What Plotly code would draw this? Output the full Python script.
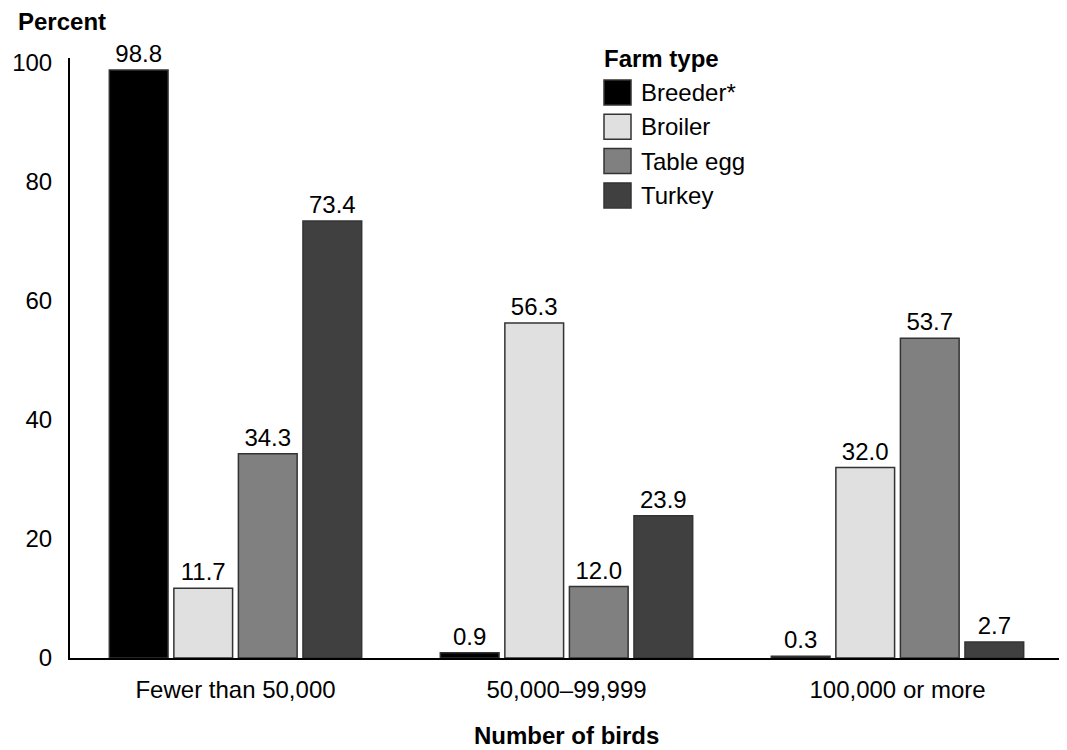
import plotly.graph_objects as go

categories = ["Fewer than 50,000", "50,000\u201399,999", "100,000 or more"]
series_names = ["Breeder*", "Broiler", "Table egg", "Turkey"]
breeder = [98.8, 0.9, 0.3]
broiler = [11.7, 56.3, 32.0]
table_egg = [34.3, 12.0, 53.7]
turkey = [73.4, 23.9, 2.7]
colors = ["#000000", "#e0e0e0", "#808080", "#404040"]
y_ticks = [0, 20, 40, 60, 80, 100]

FONT = "Liberation Sans"
FS = 24

# page offset (browser body margin) compensation: plot area in page coords = x 70..1063, y 58..658
OFF = 8

fig = go.Figure()
for name, vals, col in zip(series_names, [breeder, broiler, table_egg, turkey], colors):
    fig.add_trace(go.Bar(
        x=categories, y=vals, name=name,
        marker=dict(color=col, line=dict(color="#333333", width=1.5)),
        text=[f"{v:.1f}" for v in vals], textposition="outside",
        textfont=dict(family=FONT, size=FS, color="black"),
        cliponaxis=False, showlegend=False,
    ))

fig.update_layout(
    width=1067 - OFF, height=750 - OFF,
    margin=dict(l=70 - OFF, r=4, t=58 - OFF, b=92, autoexpand=False),
    paper_bgcolor="white", plot_bgcolor="white",
    barmode="group", bargap=0.22, bargroupgap=0.09,
    font=dict(family=FONT, size=FS, color="black"),
    uniformtext=dict(minsize=FS, mode="show"),
)
fig.update_yaxes(
    range=[0, 100.8], tickvals=y_ticks, showgrid=False, zeroline=False,
    showline=True, linecolor="black", linewidth=2, ticks="",
    ticklabelstandoff=11, tickfont=dict(family=FONT, size=FS),
)
fig.update_xaxes(
    showgrid=False, showline=True, linecolor="black", linewidth=2, ticks="",
    ticklabelstandoff=9, tickfont=dict(family=FONT, size=FS),
)

def px_x(px):
    return (px - 70) / 993

def px_y(py):
    return (658 - py) / 600

# Axis titles
fig.add_annotation(text="<b>Percent</b>", xref="paper", yref="paper", x=px_x(16), y=px_y(22),
                   xanchor="left", yanchor="middle", showarrow=False,
                   font=dict(family=FONT, size=FS))
fig.add_annotation(text="<b>Number of birds</b>", xref="paper", yref="paper", x=0.5, y=px_y(735),
                   xanchor="center", yanchor="middle", showarrow=False,
                   font=dict(family=FONT, size=FS))

# Custom legend
fig.add_annotation(text="<b>Farm type</b>", xref="paper", yref="paper", x=px_x(602), y=px_y(58),
                   xanchor="left", yanchor="middle", showarrow=False, font=dict(family=FONT, size=FS))
for i, (name, col) in enumerate(zip(series_names, colors)):
    top = 80 + 34.3 * i
    fig.add_shape(type="rect", xref="paper", yref="paper",
                  x0=px_x(604), x1=px_x(631), y0=px_y(top + 25), y1=px_y(top),
                  fillcolor=col, line=dict(color="#333333", width=1.5))
    fig.add_annotation(text=name, xref="paper", yref="paper", x=px_x(639), y=px_y(top + 12.5),
                       xanchor="left", yanchor="middle", showarrow=False, font=dict(family=FONT, size=FS))

fig.write_html("out.html")
